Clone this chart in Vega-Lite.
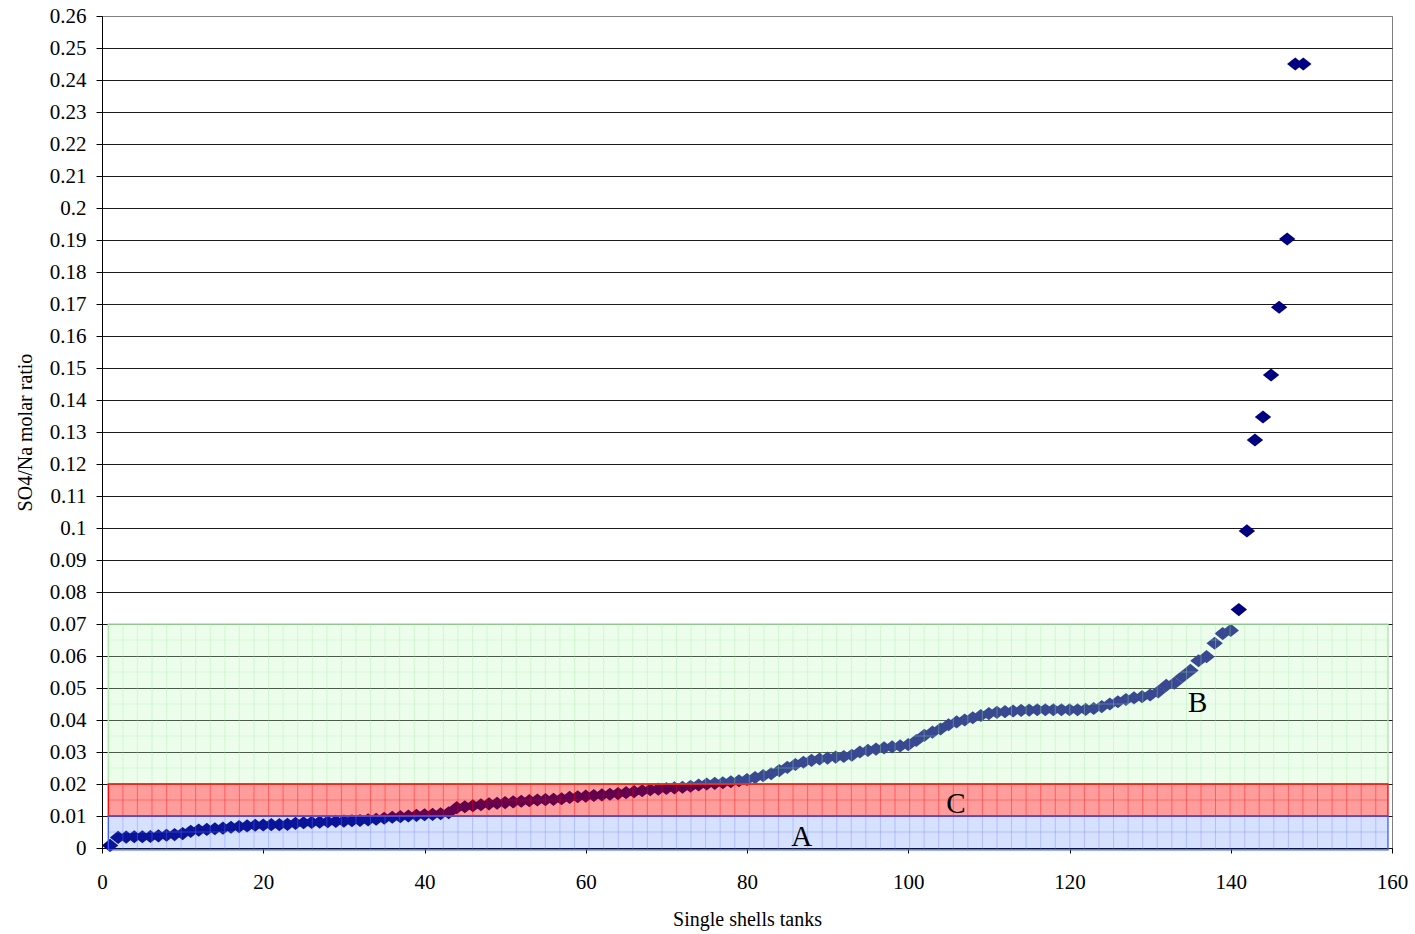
{
  "$schema": "https://vega.github.io/schema/vega-lite/v6.json",
  "width": 1290,
  "height": 832,
  "autosize": {"type": "none"},
  "padding": {"left": 102, "top": 16, "right": 23, "bottom": 86},
  "background": "white",
  "config": {
    "view": {"stroke": "#808080", "strokeWidth": 1},
    "font": "Liberation Serif"
  },
  "datasets": {
    "tanks": [
      {"tank": 1, "ratio": 0.0008}, {"tank": 2, "ratio": 0.0033}, {"tank": 3, "ratio": 0.0034}, {"tank": 4, "ratio": 0.0035}, {"tank": 5, "ratio": 0.0035},
      {"tank": 6, "ratio": 0.0036}, {"tank": 7, "ratio": 0.0038}, {"tank": 8, "ratio": 0.004}, {"tank": 9, "ratio": 0.0042}, {"tank": 10, "ratio": 0.0045},
      {"tank": 11, "ratio": 0.0052}, {"tank": 12, "ratio": 0.0056}, {"tank": 13, "ratio": 0.0058}, {"tank": 14, "ratio": 0.006}, {"tank": 15, "ratio": 0.0062},
      {"tank": 16, "ratio": 0.0065}, {"tank": 17, "ratio": 0.0067}, {"tank": 18, "ratio": 0.0069}, {"tank": 19, "ratio": 0.0071}, {"tank": 20, "ratio": 0.0072},
      {"tank": 21, "ratio": 0.0073}, {"tank": 22, "ratio": 0.0073}, {"tank": 23, "ratio": 0.0074}, {"tank": 24, "ratio": 0.0077}, {"tank": 25, "ratio": 0.0079},
      {"tank": 26, "ratio": 0.008}, {"tank": 27, "ratio": 0.0081}, {"tank": 28, "ratio": 0.0082}, {"tank": 29, "ratio": 0.0083}, {"tank": 30, "ratio": 0.0084},
      {"tank": 31, "ratio": 0.0085}, {"tank": 32, "ratio": 0.0086}, {"tank": 33, "ratio": 0.0088}, {"tank": 34, "ratio": 0.009}, {"tank": 35, "ratio": 0.0093},
      {"tank": 36, "ratio": 0.0096}, {"tank": 37, "ratio": 0.0098}, {"tank": 38, "ratio": 0.01}, {"tank": 39, "ratio": 0.0102}, {"tank": 40, "ratio": 0.0104},
      {"tank": 41, "ratio": 0.0105}, {"tank": 42, "ratio": 0.0107}, {"tank": 43, "ratio": 0.011}, {"tank": 44, "ratio": 0.0126}, {"tank": 45, "ratio": 0.0129},
      {"tank": 46, "ratio": 0.0132}, {"tank": 47, "ratio": 0.0135}, {"tank": 48, "ratio": 0.0138}, {"tank": 49, "ratio": 0.014}, {"tank": 50, "ratio": 0.0142},
      {"tank": 51, "ratio": 0.0144}, {"tank": 52, "ratio": 0.0146}, {"tank": 53, "ratio": 0.0148}, {"tank": 54, "ratio": 0.015}, {"tank": 55, "ratio": 0.0151},
      {"tank": 56, "ratio": 0.0152}, {"tank": 57, "ratio": 0.0154}, {"tank": 58, "ratio": 0.0158}, {"tank": 59, "ratio": 0.016}, {"tank": 60, "ratio": 0.0162},
      {"tank": 61, "ratio": 0.0164}, {"tank": 62, "ratio": 0.0166}, {"tank": 63, "ratio": 0.0168}, {"tank": 64, "ratio": 0.017}, {"tank": 65, "ratio": 0.0173},
      {"tank": 66, "ratio": 0.0176}, {"tank": 67, "ratio": 0.0179}, {"tank": 68, "ratio": 0.0182}, {"tank": 69, "ratio": 0.0184}, {"tank": 70, "ratio": 0.0186},
      {"tank": 71, "ratio": 0.0188}, {"tank": 72, "ratio": 0.019}, {"tank": 73, "ratio": 0.0193}, {"tank": 74, "ratio": 0.0197}, {"tank": 75, "ratio": 0.02},
      {"tank": 76, "ratio": 0.0202}, {"tank": 77, "ratio": 0.0204}, {"tank": 78, "ratio": 0.0207}, {"tank": 79, "ratio": 0.021}, {"tank": 80, "ratio": 0.0214},
      {"tank": 81, "ratio": 0.022}, {"tank": 82, "ratio": 0.0226}, {"tank": 83, "ratio": 0.0232}, {"tank": 84, "ratio": 0.0242}, {"tank": 85, "ratio": 0.0252},
      {"tank": 86, "ratio": 0.0261}, {"tank": 87, "ratio": 0.0268}, {"tank": 88, "ratio": 0.0274}, {"tank": 89, "ratio": 0.0278}, {"tank": 90, "ratio": 0.0281},
      {"tank": 91, "ratio": 0.0284}, {"tank": 92, "ratio": 0.0286}, {"tank": 93, "ratio": 0.029}, {"tank": 94, "ratio": 0.03}, {"tank": 95, "ratio": 0.0305},
      {"tank": 96, "ratio": 0.0309}, {"tank": 97, "ratio": 0.0313}, {"tank": 98, "ratio": 0.0316}, {"tank": 99, "ratio": 0.0319}, {"tank": 100, "ratio": 0.0323},
      {"tank": 101, "ratio": 0.0336}, {"tank": 102, "ratio": 0.0352}, {"tank": 103, "ratio": 0.0362}, {"tank": 104, "ratio": 0.0372}, {"tank": 105, "ratio": 0.0385},
      {"tank": 106, "ratio": 0.0394}, {"tank": 107, "ratio": 0.04}, {"tank": 108, "ratio": 0.0407}, {"tank": 109, "ratio": 0.0414}, {"tank": 110, "ratio": 0.042},
      {"tank": 111, "ratio": 0.0424}, {"tank": 112, "ratio": 0.0426}, {"tank": 113, "ratio": 0.0428}, {"tank": 114, "ratio": 0.043}, {"tank": 115, "ratio": 0.0431},
      {"tank": 116, "ratio": 0.0432}, {"tank": 117, "ratio": 0.0432}, {"tank": 118, "ratio": 0.0432}, {"tank": 119, "ratio": 0.0432}, {"tank": 120, "ratio": 0.0432},
      {"tank": 121, "ratio": 0.0432}, {"tank": 122, "ratio": 0.0433}, {"tank": 123, "ratio": 0.0436}, {"tank": 124, "ratio": 0.0442}, {"tank": 125, "ratio": 0.045},
      {"tank": 126, "ratio": 0.0457}, {"tank": 127, "ratio": 0.0464}, {"tank": 128, "ratio": 0.0469}, {"tank": 129, "ratio": 0.0473}, {"tank": 130, "ratio": 0.0478},
      {"tank": 131, "ratio": 0.0488}, {"tank": 132, "ratio": 0.0508}, {"tank": 133, "ratio": 0.0515}, {"tank": 134, "ratio": 0.0535}, {"tank": 135, "ratio": 0.0555},
      {"tank": 136, "ratio": 0.0585}, {"tank": 137, "ratio": 0.0598}, {"tank": 138, "ratio": 0.064}, {"tank": 139, "ratio": 0.067}, {"tank": 140, "ratio": 0.068},
      {"tank": 141, "ratio": 0.0745}, {"tank": 142, "ratio": 0.0991}, {"tank": 143, "ratio": 0.1275}, {"tank": 144, "ratio": 0.1347}, {"tank": 145, "ratio": 0.1478},
      {"tank": 146, "ratio": 0.169}, {"tank": 147, "ratio": 0.1903}, {"tank": 148, "ratio": 0.245}, {"tank": 149, "ratio": 0.245}
    ],
    "zones": [
      {"zone": "B", "x1": 0.78, "x2": 159.5, "y1": 0.02, "y2": 0.07},
      {"zone": "C", "x1": 0.78, "x2": 159.5, "y1": 0.01, "y2": 0.02},
      {"zone": "A", "x1": 0.78, "x2": 159.5, "y1": -0.0006, "y2": 0.01}
    ],
    "pattern": [
      {"px": 2.59}, {"px": 4.39}, {"px": 6.2}, {"px": 8.01}, {"px": 9.82}, {"px": 11.62}, {"px": 13.43}, {"px": 15.24}, {"px": 17.04}, {"px": 18.85},
      {"px": 20.66}, {"px": 22.46}, {"px": 24.27}, {"px": 26.08}, {"px": 27.89}, {"px": 29.69}, {"px": 31.5}, {"px": 33.31}, {"px": 35.11}, {"px": 36.92},
      {"px": 38.73}, {"px": 40.53}, {"px": 42.34}, {"px": 44.15}, {"px": 45.96}, {"px": 47.76}, {"px": 49.57}, {"px": 51.38}, {"px": 53.18}, {"px": 54.99},
      {"px": 56.8}, {"px": 58.6}, {"px": 60.41}, {"px": 62.22}, {"px": 64.03}, {"px": 65.83}, {"px": 67.64}, {"px": 69.45}, {"px": 71.25}, {"px": 73.06},
      {"px": 74.87}, {"px": 76.67}, {"px": 78.48}, {"px": 80.29}, {"px": 82.1}, {"px": 83.9}, {"px": 85.71}, {"px": 87.52}, {"px": 89.32}, {"px": 91.13},
      {"px": 92.94}, {"px": 94.74}, {"px": 96.55}, {"px": 98.36}, {"px": 100.17}, {"px": 101.97}, {"px": 103.78}, {"px": 105.59}, {"px": 107.39}, {"px": 109.2},
      {"px": 111.01}, {"px": 112.81}, {"px": 114.62}, {"px": 116.43}, {"px": 118.24}, {"px": 120.04}, {"px": 121.85}, {"px": 123.66}, {"px": 125.46}, {"px": 127.27},
      {"px": 129.08}, {"px": 130.88}, {"px": 132.69}, {"px": 134.5}, {"px": 136.31}, {"px": 138.11}, {"px": 139.92}, {"px": 141.73}, {"px": 143.53}, {"px": 145.34},
      {"px": 147.15}, {"px": 148.95}, {"px": 150.76}, {"px": 152.57}, {"px": 154.38}, {"px": 156.18}, {"px": 157.99}
    ],
    "hpattern": [
      {"py": 0.005, "zone": "A"}, {"py": 0.015, "zone": "C"},
      {"py": 0.025, "zone": "B"}, {"py": 0.035, "zone": "B"}, {"py": 0.045, "zone": "B"}, {"py": 0.055, "zone": "B"}, {"py": 0.065, "zone": "B"}
    ],
    "labels": [
      {"label": "A", "lx": 86.8, "ly": 0.0005},
      {"label": "C", "lx": 105.9, "ly": 0.0108},
      {"label": "B", "lx": 135.9, "ly": 0.0424}
    ]
  },
  "layer": [
    {
      "data": {"name": "tanks"},
      "mark": {"type": "point", "shape": "M -1 0 L 0 -0.8 L 1 0 L 0 0.8 Z", "filled": true, "size": 270, "color": "#000080", "opacity": 1},
      "encoding": {
        "x": {
          "field": "tank", "type": "quantitative",
          "scale": {"domain": [0, 160], "nice": false, "zero": false},
          "axis": {
            "values": [0, 20, 40, 60, 80, 100, 120, 140, 160],
            "grid": false,
            "title": "Single shells tanks",
            "titleFont": "Liberation Serif", "titleFontSize": 20, "titleFontWeight": "normal", "titleColor": "#000",
            "titlePadding": 17,
            "labelFont": "Liberation Serif", "labelFontSize": 21, "labelColor": "#000", "labelPadding": 18,
            "labelFlush": false, "labelOverlap": false,
            "tickSize": 5, "tickColor": "#000", "domainColor": "#000", "domainWidth": 1
          }
        },
        "y": {
          "field": "ratio", "type": "quantitative",
          "scale": {"domain": [0, 0.26], "nice": false, "zero": false},
          "axis": {
            "values": [0, 0.01, 0.02, 0.03, 0.04, 0.05, 0.06, 0.07, 0.08, 0.09, 0.1, 0.11, 0.12, 0.13, 0.14, 0.15, 0.16, 0.17, 0.18, 0.19, 0.2, 0.21, 0.22, 0.23, 0.24, 0.25, 0.26],
            "tickCount": 27,
            "format": "~g",
            "grid": true,
            "gridColor": {"condition": {"test": "datum.value >= 0.259", "value": "#808080"}, "value": "#1a1a1a"},
            "gridWidth": 1, "gridOpacity": 1,
            "title": "SO4/Na molar ratio",
            "titleFont": "Liberation Serif", "titleFontSize": 20, "titleFontWeight": "normal", "titleColor": "#000",
            "titlePadding": 14,
            "labelFont": "Liberation Serif", "labelFontSize": 21, "labelColor": "#000", "labelPadding": 10,
            "labelFlush": false, "labelOverlap": false,
            "tickSize": 6, "tickColor": "#000", "domainColor": "#000", "domainWidth": 1
          }
        }
      }
    },
    {
      "data": {"name": "zones"},
      "mark": {"type": "rect", "strokeWidth": 0},
      "encoding": {
        "x": {"field": "x1", "type": "quantitative"},
        "x2": {"field": "x2"},
        "y": {"field": "y1", "type": "quantitative"},
        "y2": {"field": "y2"},
        "fill": {"field": "zone", "type": "nominal", "scale": {"domain": ["A", "B", "C"], "range": ["#3366ff", "#c0f9c0", "#ff0000"]}, "legend": null},
        "fillOpacity": {"field": "zone", "type": "nominal", "scale": {"domain": ["A", "B", "C"], "range": [0.2, 0.39, 0.4]}, "legend": null}
      }
    },
    {
      "data": {"name": "pattern"},
      "mark": {"type": "rule", "color": "#9fef9f", "strokeWidth": 1, "opacity": 0.35},
      "encoding": {
        "x": {"field": "px", "type": "quantitative"},
        "y": {"datum": 0.02},
        "y2": {"datum": 0.07}
      }
    },
    {
      "data": {"name": "pattern"},
      "mark": {"type": "rule", "color": "#ff0000", "strokeWidth": 1, "opacity": 0.4},
      "encoding": {
        "x": {"field": "px", "type": "quantitative"},
        "y": {"datum": 0.01},
        "y2": {"datum": 0.02}
      }
    },
    {
      "data": {"name": "pattern"},
      "mark": {"type": "rule", "color": "#6685ff", "strokeWidth": 1, "opacity": 0.35},
      "encoding": {
        "x": {"field": "px", "type": "quantitative"},
        "y": {"datum": -0.0006},
        "y2": {"datum": 0.01}
      }
    },
    {
      "data": {"name": "hpattern"},
      "mark": {"type": "rule", "strokeWidth": 1},
      "encoding": {
        "y": {"field": "py", "type": "quantitative"},
        "x": {"datum": 0.78},
        "x2": {"datum": 159.5},
        "color": {"field": "zone", "type": "nominal", "scale": {"domain": ["A", "B", "C"], "range": ["#6685ff", "#9fef9f", "#ff0000"]}, "legend": null},
        "opacity": {"field": "zone", "type": "nominal", "scale": {"domain": ["A", "B", "C"], "range": [0.35, 0.3, 0.4]}, "legend": null}
      }
    },
    {
      "data": {"name": "zones"},
      "mark": {"type": "rect", "fill": null, "fillOpacity": 0, "strokeWidth": 1.3},
      "encoding": {
        "x": {"field": "x1", "type": "quantitative"},
        "x2": {"field": "x2"},
        "y": {"field": "y1", "type": "quantitative"},
        "y2": {"field": "y2"},
        "stroke": {"field": "zone", "type": "nominal", "scale": {"domain": ["A", "B", "C"], "range": ["#3a5cff", "#a8e8a8", "#ff0000"]}, "legend": null}
      }
    },
    {
      "data": {"name": "labels"},
      "mark": {"type": "text", "font": "Liberation Serif", "fontSize": 29, "color": "#000", "align": "center", "baseline": "alphabetic"},
      "encoding": {
        "x": {"field": "lx", "type": "quantitative"},
        "y": {"field": "ly", "type": "quantitative"},
        "text": {"field": "label"}
      }
    }
  ]
}
